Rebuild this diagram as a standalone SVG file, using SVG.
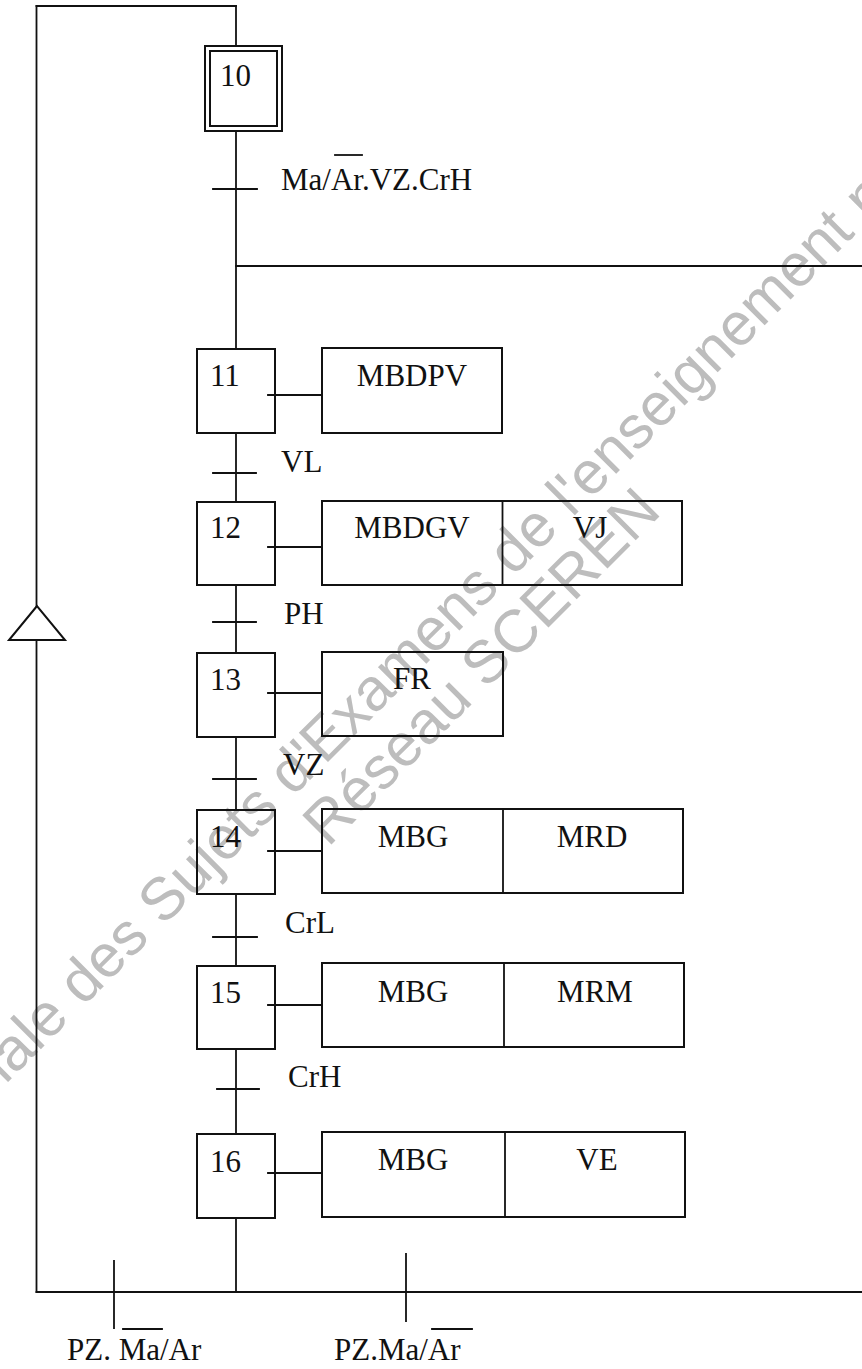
<svg xmlns="http://www.w3.org/2000/svg" width="862" height="1369" viewBox="0 0 862 1369">
<style>
.ln{stroke:#111;stroke-width:1.8;fill:none;stroke-linecap:square}
.bx{stroke:#111;stroke-width:2;fill:none}
.tx{font-family:"Liberation Serif","Times New Roman",serif;font-size:31px;fill:#111}
.mid{text-anchor:middle}
.wm{font-family:"Liberation Sans",Arial,sans-serif;font-size:60px;fill:#bdbdbd}
</style>
<rect width="862" height="1369" fill="#fff"/>
<g id="watermark">
<text class="wm" transform="translate(-61,1151) rotate(-45)">Annale des Sujets d'Examens de l'enseignement professionnel</text>
<text class="wm" transform="translate(328,848) rotate(-45)">Réseau SCEREN</text>
</g>
<g id="connectors">
<line class="ln" x1="36.5" y1="6" x2="236" y2="6"/>
<line class="ln" x1="236" y1="6" x2="236" y2="46"/>
<line class="ln" x1="236" y1="131" x2="236" y2="349"/>
<line class="ln" x1="236" y1="266" x2="862" y2="266"/>
<line class="ln" x1="236" y1="433" x2="236" y2="502"/>
<line class="ln" x1="236" y1="585" x2="236" y2="653"/>
<line class="ln" x1="236" y1="737" x2="236" y2="810"/>
<line class="ln" x1="236" y1="894" x2="236" y2="966"/>
<line class="ln" x1="236" y1="1049" x2="236" y2="1134"/>
<line class="ln" x1="236" y1="1218" x2="236" y2="1292"/>
<line class="ln" x1="36.5" y1="1292" x2="862" y2="1292"/>
<line class="ln" x1="36.5" y1="6" x2="36.5" y2="606"/>
<line class="ln" x1="36.5" y1="640" x2="36.5" y2="1292"/>
<polygon class="bx" points="37,606 9,640 65,640"/>
<line class="ln" x1="268" y1="395" x2="322" y2="395"/>
<line class="ln" x1="268" y1="547" x2="322" y2="547"/>
<line class="ln" x1="268" y1="693" x2="322" y2="693"/>
<line class="ln" x1="268" y1="851" x2="322" y2="851"/>
<line class="ln" x1="268" y1="1005" x2="322" y2="1005"/>
<line class="ln" x1="268" y1="1173" x2="322" y2="1173"/>
</g>
<g id="t10-11">
<line class="ln" x1="213" y1="189" x2="257" y2="189"/>
<text class="tx" x="281" y="190">Ma/Ar.VZ.CrH</text>
<line class="ln" x1="335" y1="155" x2="362" y2="155"/>
</g>
<g id="t11-12"><line class="ln" x1="213" y1="473" x2="256" y2="473"/><text class="tx" x="281" y="472">VL</text></g>
<g id="t12-13"><line class="ln" x1="213" y1="622" x2="256" y2="622"/><text class="tx" x="284" y="624">PH</text></g>
<g id="t13-14"><line class="ln" x1="213" y1="779" x2="256" y2="779"/><text class="tx" x="283" y="775">VZ</text></g>
<g id="t14-15"><line class="ln" x1="213" y1="937" x2="257" y2="937"/><text class="tx" x="285" y="933">CrL</text></g>
<g id="t15-16"><line class="ln" x1="217" y1="1089" x2="259" y2="1089"/><text class="tx" x="288" y="1087">CrH</text></g>
<g id="t16-10a"><line class="ln" x1="114" y1="1261" x2="114" y2="1328"/><text class="tx" x="67" y="1360">PZ. Ma/Ar</text><line class="ln" x1="123" y1="1329" x2="162" y2="1329"/></g>
<g id="t16-11b"><line class="ln" x1="406" y1="1254" x2="406" y2="1321"/><text class="tx" x="334" y="1360">PZ.Ma/Ar</text><line class="ln" x1="432" y1="1329" x2="472" y2="1329"/></g>
<g id="step10">
<rect class="bx" x="205" y="46" width="77" height="85"/>
<rect class="bx" x="210" y="51" width="67" height="75"/>
<text class="tx" x="220" y="86">10</text>
</g>
<g id="step11"><rect class="bx" x="197" y="349" width="78" height="84"/><text class="tx" x="210" y="386">11</text></g>
<g id="action11"><rect class="bx" x="322" y="348" width="180" height="85"/><text class="tx mid" x="412" y="386">MBDPV</text></g>
<g id="step12"><rect class="bx" x="197" y="502" width="78" height="83"/><text class="tx" x="210" y="538">12</text></g>
<g id="action12"><rect class="bx" x="322" y="501" width="360" height="84"/><line class="ln" x1="502.5" y1="501" x2="502.5" y2="585"/><text class="tx mid" x="412" y="538">MBDGV</text><text class="tx mid" x="590" y="538">VJ</text></g>
<g id="step13"><rect class="bx" x="197" y="653" width="78" height="84"/><text class="tx" x="210" y="690">13</text></g>
<g id="action13"><rect class="bx" x="322" y="652" width="181" height="84"/><text class="tx mid" x="412" y="689">FR</text></g>
<g id="step14"><rect class="bx" x="197" y="810" width="78" height="84"/><text class="tx" x="210" y="847">14</text></g>
<g id="action14"><rect class="bx" x="322" y="809" width="361" height="84"/><line class="ln" x1="503" y1="809" x2="503" y2="893"/><text class="tx mid" x="413" y="847">MBG</text><text class="tx mid" x="592" y="847">MRD</text></g>
<g id="step15"><rect class="bx" x="197" y="966" width="78" height="83"/><text class="tx" x="210" y="1003">15</text></g>
<g id="action15"><rect class="bx" x="322" y="963" width="362" height="84"/><line class="ln" x1="504" y1="963" x2="504" y2="1047"/><text class="tx mid" x="413" y="1002">MBG</text><text class="tx mid" x="595" y="1002">MRM</text></g>
<g id="step16"><rect class="bx" x="197" y="1134" width="78" height="84"/><text class="tx" x="210" y="1172">16</text></g>
<g id="action16"><rect class="bx" x="322" y="1132" width="363" height="85"/><line class="ln" x1="505" y1="1132" x2="505" y2="1217"/><text class="tx mid" x="413" y="1170">MBG</text><text class="tx mid" x="597" y="1170">VE</text></g>
</svg>
